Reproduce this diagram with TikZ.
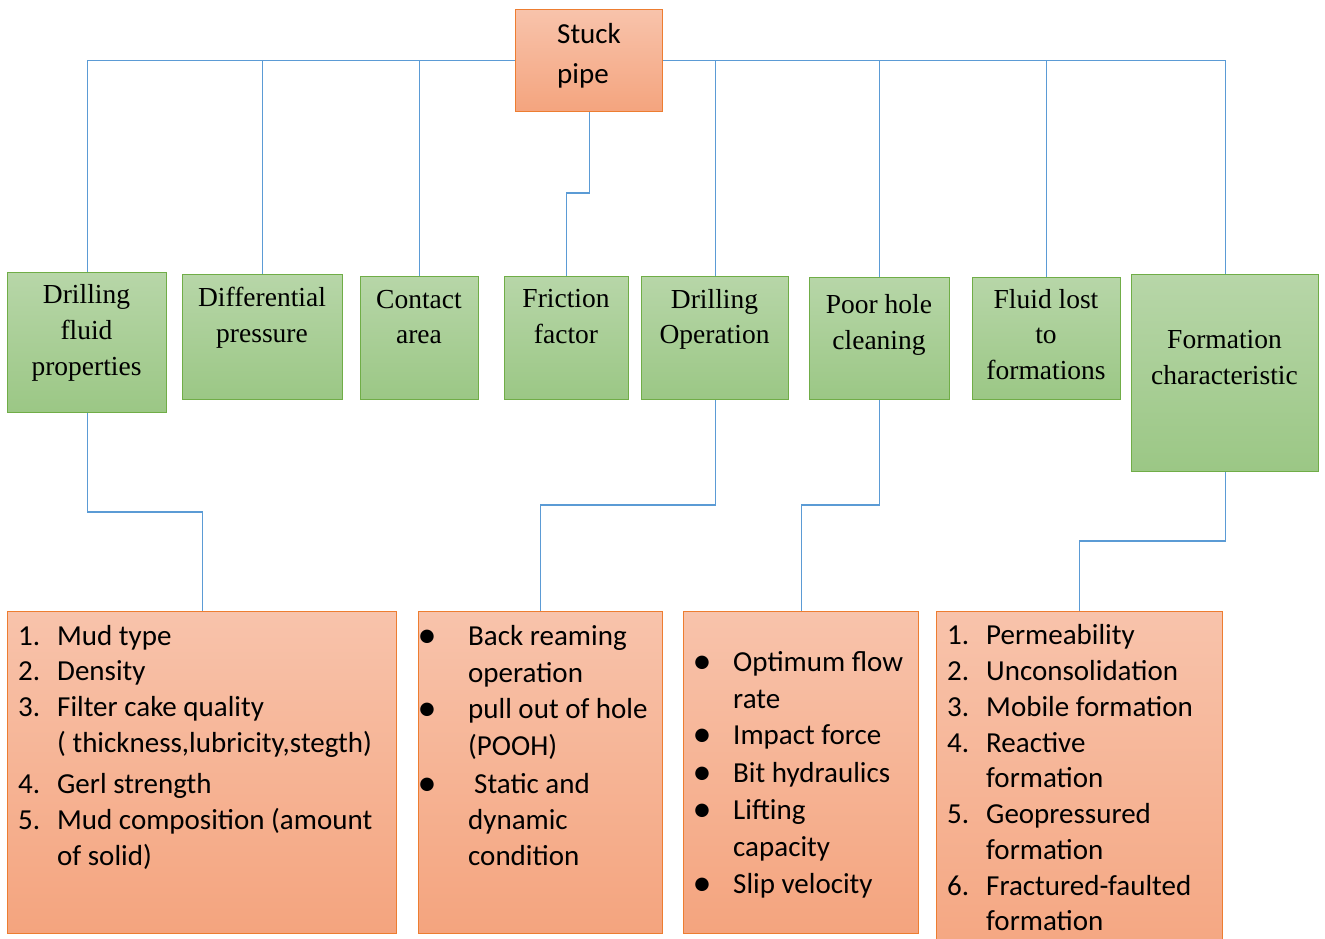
\documentclass[tikz,border=0pt]{standalone}
\usepackage{fontspec}
\setmainfont{Carlito}
\newfontfamily\gserif{Liberation Serif}
\definecolor{lineblue}{RGB}{91,155,213}
\definecolor{gborder}{RGB}{112,173,71}
\definecolor{gtop}{RGB}{183,214,168}
\definecolor{gbot}{RGB}{155,199,133}
\definecolor{oborder}{RGB}{237,125,49}
\definecolor{otop}{RGB}{248,195,171}
\definecolor{obot}{RGB}{244,164,126}
\tikzset{
  conn/.style={draw=lineblue, line width=1.2pt},
  gbox/.style={draw=gborder, line width=1.4pt, top color=gtop, bottom color=gbot, anchor=north west, inner sep=0pt},
  obox/.style={draw=oborder, line width=1.4pt, top color=otop, bottom color=obot, anchor=north west, inner sep=0pt},
  gtext/.style={anchor=base, inner sep=0pt, font=\gserif\fontsize{27.5}{33}\selectfont},
  ltext/.style={anchor=base west, inner sep=0pt, font=\fontsize{29}{35}\selectfont},
  btext/.style={anchor=base, inner sep=0pt, font=\fontsize{38}{40}\selectfont},
}
\newcommand\gtx[4]{\node[gtext] (#1) at (#2,#3) {#4};}
\newcommand\ltx[4]{\node[ltext] (#1) at (#2,#3) {#4};}
\newcommand\btx[3]{\node[btext] (#1) at (#2,#3+2) {\textbullet};}
\begin{document}
\begin{tikzpicture}[x=1pt,y=-1pt]
\useasboundingbox (0,0) rectangle (1325,938);
\clip (0,0) rectangle (1325,938);
% top box
\node[obox, minimum width=147pt, minimum height=102pt] (sp) at (515,9) {};
\ltx{sp1}{557}{43}{Stuck}
\ltx{sp2}{557}{83}{pipe}
% green boxes
\node[gbox, minimum width=159pt, minimum height=140pt] (dfp) at (7,272) {};
\node[gbox, minimum width=160pt, minimum height=125pt] (dp) at (182,274) {};
\node[gbox, minimum width=118pt, minimum height=123pt] (ca) at (360,276) {};
\node[gbox, minimum width=124pt, minimum height=123pt] (ff) at (504,276) {};
\node[gbox, minimum width=147pt, minimum height=123pt] (do) at (641,276) {};
\node[gbox, minimum width=140pt, minimum height=122pt] (ph) at (809,277) {};
\node[gbox, minimum width=148pt, minimum height=122pt] (fl) at (972,277) {};
\node[gbox, minimum width=187pt, minimum height=197pt] (fc) at (1131,274) {};
\gtx{dfp1}{86.5}{303}{Drilling}
\gtx{dfp2}{86.5}{339}{fluid}
\gtx{dfp3}{86.5}{375}{properties}
\gtx{dp1}{262}{306}{Differential}
\gtx{dp2}{262}{342}{pressure}
\gtx{ca1}{419}{308}{Contact}
\gtx{ca2}{419}{343}{area}
\gtx{ff1}{566}{307}{Friction}
\gtx{ff2}{566}{343}{factor}
\gtx{do1}{714.5}{308}{Drilling}
\gtx{do2}{714.5}{343}{Operation}
\gtx{ph1}{879}{313}{Poor hole}
\gtx{ph2}{879}{349}{cleaning}
\gtx{fl1}{1046}{308}{Fluid lost}
\gtx{fl2}{1046}{343}{to}
\gtx{fl3}{1046}{379}{formations}
\gtx{fc1}{1224.5}{348}{Formation}
\gtx{fc2}{1224.5}{384}{characteristic}
% bottom boxes
\node[obox, minimum width=389pt, minimum height=322pt] (b1) at (7,611) {};
\node[obox, minimum width=244pt, minimum height=322pt] (b2) at (418,611) {};
\node[obox, minimum width=235pt, minimum height=322pt] (b3) at (683,611) {};
\node[obox, minimum width=286pt, minimum height=370pt] (b4) at (936,611) {};
% box 1 list
\ltx{a1n}{18}{645}{1.} \ltx{a1t}{57}{645}{Mud type}
\ltx{a2n}{18}{680}{2.} \ltx{a2t}{57}{680}{Density}
\ltx{a3n}{18}{716}{3.} \ltx{a3t}{57}{716}{Filter cake quality}
\ltx{a3u}{57}{752}{( thickness,lubricity,stegth)}
\ltx{a4n}{18}{793}{4.} \ltx{a4t}{57}{793}{Gerl strength}
\ltx{a5n}{18}{829}{5.} \ltx{a5t}{57}{829}{Mud composition (amount}
\ltx{a5u}{57}{865}{of solid)}
% box 2 list
\btx{c1b}{427}{645} \ltx{c1t}{468}{645}{Back reaming}
\ltx{c1u}{468}{682}{operation}
\btx{c2b}{427}{718} \ltx{c2t}{468}{718}{pull out of hole}
\ltx{c2u}{468}{755}{(POOH)}
\btx{c3b}{427}{793} \ltx{c3t}{474}{793}{Static and}
\ltx{c3u}{468}{829}{dynamic}
\ltx{c3v}{468}{865}{condition}
% box 3 list
\btx{d1b}{702}{671} \ltx{d1t}{733}{671}{Optimum flow}
\ltx{d1u}{733}{708}{rate}
\btx{d2b}{702}{744} \ltx{d2t}{733}{744}{Impact force}
\btx{d3b}{702}{782} \ltx{d3t}{733}{782}{Bit hydraulics}
\btx{d4b}{702}{819} \ltx{d4t}{733}{819}{Lifting}
\ltx{d4u}{733}{856}{capacity}
\btx{d5b}{702}{893} \ltx{d5t}{733}{893}{Slip velocity}
% box 4 list
\ltx{e1n}{947}{644}{1.} \ltx{e1t}{986}{644}{Permeability}
\ltx{e2n}{947}{680}{2.} \ltx{e2t}{986}{680}{Unconsolidation}
\ltx{e3n}{947}{716}{3.} \ltx{e3t}{986}{716}{Mobile formation}
\ltx{e4n}{947}{752}{4.} \ltx{e4t}{986}{752}{Reactive}
\ltx{e4u}{986}{787}{formation}
\ltx{e5n}{947}{823}{5.} \ltx{e5t}{986}{823}{Geopressured}
\ltx{e5u}{986}{859}{formation}
\ltx{e6n}{947}{895}{6.} \ltx{e6t}{986}{895}{Fractured-faulted}
\ltx{e6u}{986}{930}{formation}
% connectors
\coordinate (jf) at (0,193);
\coordinate (j1) at (0,512);
\coordinate (j2) at (0,505);
\coordinate (j3) at (0,541);
\draw[conn] (sp.west) -| (dfp.north);
\draw[conn] (dp.north) -- (dp.north |- sp.west);
\draw[conn] (ca.north) -- (ca.north |- sp.west);
\draw[conn] (sp.east) -| (fc.north);
\draw[conn] (do.north) -- (do.north |- sp.east);
\draw[conn] (ph.north) -- (ph.north |- sp.east);
\draw[conn] (fl.north) -- (fl.north |- sp.east);
\draw[conn] (sp.south) |- (ff.north |- jf) -- (ff.north);
\draw[conn] (dfp.south) |- (b1.north |- j1) -- (b1.north);
\draw[conn] (do.south) |- (b2.north |- j2) -- (b2.north);
\draw[conn] (ph.south) |- (b3.north |- j2) -- (b3.north);
\draw[conn] (fc.south) |- (b4.north |- j3) -- (b4.north);
\end{tikzpicture}
\end{document}
